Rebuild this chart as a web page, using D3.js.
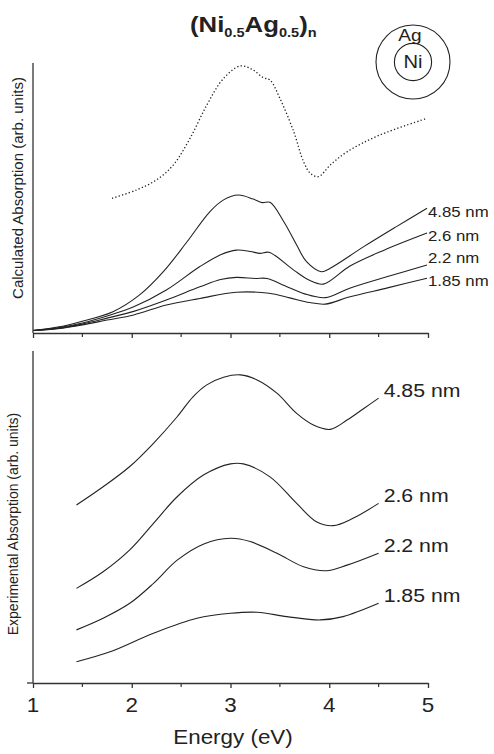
<!DOCTYPE html>
<html>
<head>
<meta charset="utf-8">
<script src="https://cdn.jsdelivr.net/npm/d3@7"></script>
<style>
  body { margin: 0; background: #fff; }
  text { font-family: "Liberation Sans", Arial, sans-serif; fill: #222; }
</style>
</head>
<body>
<script>
// energies (eV) and absorption (arb. units, 0-100 of panel height)
var calcLabels = ["4.85 nm", "2.6 nm", "2.2 nm", "1.85 nm"];
var calc485 = [[1.0,0.9],[1.25,2.2],[1.48,4.2],[1.81,7.9],[2.08,14.1],[2.32,22.7],[2.56,33.8],[2.79,44.9],[2.93,49.3],[3.08,51.1],[3.23,49.6],[3.32,48.3],[3.40,48.4],[3.54,41.2],[3.67,32.6],[3.77,26.4],[3.92,22.7],[4.01,24.0],[4.35,32.0],[4.68,39.4],[4.99,46.2]];
var calc26 = [[1.0,0.9],[1.25,1.9],[1.5,3.7],[1.75,6.3],[2.02,9.7],[2.35,15.9],[2.69,24.6],[2.9,29.0],[3.06,30.7],[3.2,30.2],[3.30,29.5],[3.39,29.9],[3.64,23.3],[3.8,19.5],[3.94,18.1],[4.21,24.8],[4.55,30.6],[4.99,37.0]];
var calc22 = [[1.0,0.9],[1.25,1.7],[1.5,3.3],[1.75,5.5],[2.02,8.0],[2.35,12.2],[2.69,17.1],[2.9,19.8],[3.06,20.6],[3.25,20.2],[3.37,20.2],[3.55,17.5],[3.75,14.5],[3.96,13.1],[4.2,16.5],[4.6,21.0],[4.99,25.2]];
var calc185 = [[1.0,0.9],[1.25,1.6],[1.5,3.0],[1.75,4.8],[2.02,6.7],[2.35,10.4],[2.69,12.8],[3.06,15.1],[3.39,14.7],[3.6,13.0],[3.8,11.3],[3.96,10.7],[4.2,13.3],[4.6,16.8],[4.99,20.3]];
var calcBulk = [[1.80,49.9],[2.05,53.0],[2.25,56.7],[2.42,62.2],[2.59,72.1],[2.76,84.4],[2.93,94.3],[3.10,98.9],[3.23,97.4],[3.33,94.6],[3.40,93.7],[3.50,86.9],[3.64,74.6],[3.74,63.4],[3.81,59.1],[3.89,57.9],[4.01,62.2],[4.18,67.1],[4.51,73.3],[4.99,79.5]];

var expLabels = ["4.85 nm", "2.6 nm", "2.2 nm", "1.85 nm"];
var exp485 = [[1.44,53.6],[1.71,59.1],[1.98,65.2],[2.22,72.2],[2.46,80.2],[2.62,86.2],[2.76,89.8],[2.93,92.1],[3.10,92.8],[3.27,91.3],[3.47,87.3],[3.67,81.2],[3.84,77.7],[4.01,76.4],[4.18,79.2],[4.35,82.7],[4.50,85.8]];
var exp26 = [[1.44,28.5],[1.71,33.5],[1.98,40.1],[2.22,48.1],[2.46,56.1],[2.73,62.7],[3.00,66.0],[3.13,66.0],[3.40,62.1],[3.67,54.1],[3.87,48.6],[4.04,47.4],[4.24,49.6],[4.50,54.1]];
var exp22 = [[1.44,16.0],[1.71,19.5],[1.98,24.0],[2.22,30.0],[2.46,37.0],[2.73,41.9],[3.00,43.6],[3.20,42.6],[3.47,39.1],[3.74,35.0],[3.97,33.8],[4.18,35.5],[4.50,39.1]];
var exp185 = [[1.44,6.4],[1.78,9.4],[2.22,15.0],[2.66,19.5],[3.00,21.0],[3.27,21.3],[3.57,20.0],[3.91,19.0],[4.14,20.0],[4.50,24.0]];

var majorTicks = [1, 2, 3, 4, 5];
var minorTicks = [1.5, 2.5, 3.5, 4.5];

var W = 494, H = 754, SX = 1.12;
var ink = "#222";

var svg = d3.select("body").append("svg").attr("width", W).attr("height", H);

var x = d3.scaleLinear().domain([1, 5]).range([33, 428]);
var yTop = d3.scaleLinear().domain([0, 100]).range([333, 63]);
var yBot = d3.scaleLinear().domain([0, 100]).range([683, 351]);

// text is a bit wide in the original, so stretch horizontally
function label(px, py, str, size, anchor, weight) {
  return svg.append("text")
    .attr("transform", "translate(" + px + "," + py + ") scale(" + SX + ",1)")
    .attr("text-anchor", anchor || "start")
    .style("font-size", size + "px")
    .style("font-weight", weight || "normal")
    .text(str);
}

function drawAxes(y, leftExtra) {
  var y0 = y.range()[0];
  var ax = d3.axisBottom(x).tickValues(majorTicks).tickSize(5).tickSizeOuter(0).tickFormat("");
  var g = svg.append("g").attr("transform", "translate(0," + y0 + ")").call(ax);
  g.selectAll("path, line").attr("stroke", "#333").attr("stroke-width", 1.3);
  g.selectAll(".minor").data(minorTicks).enter().append("line")
    .attr("x1", x).attr("x2", x).attr("y1", 0).attr("y2", 4)
    .attr("stroke", "#333").attr("stroke-width", 1.2);
  if (leftExtra) {
    g.append("line").attr("x1", x(1) - leftExtra).attr("x2", x(1))
      .attr("stroke", "#333").attr("stroke-width", 1.3);
  }
  // y axis line (no ticks)
  svg.append("line").attr("x1", x(1)).attr("x2", x(1))
    .attr("y1", y.range()[1]).attr("y2", y0)
    .attr("stroke", "#333").attr("stroke-width", 1.3);
}

drawAxes(yTop, 0);
drawAxes(yBot, 6);

var lineTop = d3.line().x(function (d) { return x(d[0]); }).y(function (d) { return yTop(d[1]); })
  .curve(d3.curveCatmullRom.alpha(0.5));
var lineBot = d3.line().x(function (d) { return x(d[0]); }).y(function (d) { return yBot(d[1]); })
  .curve(d3.curveCatmullRom.alpha(0.5));

// calculated spectra
var calcSeries = [calc485, calc26, calc22, calc185];
svg.selectAll("path.calc").data(calcSeries).enter().append("path")
  .attr("class", "calc").attr("d", lineTop)
  .attr("fill", "none").attr("stroke", ink).attr("stroke-width", 1.1);

svg.append("path").datum(calcBulk).attr("d", lineTop)
  .attr("fill", "none").attr("stroke", ink).attr("stroke-width", 1.3)
  .attr("stroke-dasharray", "1.3,2.2");

var calcDy = [8.5, 11, -2.3, 7.8];
calcSeries.forEach(function (s, i) {
  var last = s[s.length - 1];
  label(x(last[0]) + 1, yTop(last[1]) + calcDy[i] - (i === 1 ? 3 : 0), calcLabels[i], 15);
});

// experimental spectra
var expSeries = [exp485, exp26, exp22, exp185];
svg.selectAll("path.exp").data(expSeries).enter().append("path")
  .attr("class", "exp").attr("d", lineBot)
  .attr("fill", "none").attr("stroke", ink).attr("stroke-width", 1.1);

expSeries.forEach(function (s, i) {
  var last = s[s.length - 1];
  label(x(last[0]) + 5, yBot(last[1]) - 1, expLabels[i], 19);
});

// tick labels and axis titles
majorTicks.forEach(function (t) {
  label(x(t), 712, String(t), 20, "middle");
});
label(233, 744, "Energy (eV)", 20, "middle");

svg.append("text")
  .attr("transform", "translate(23,188) rotate(-90)")
  .attr("text-anchor", "middle").style("font-size", "15px")
  .text("Calculated Absorption (arb. units)");
svg.append("text")
  .attr("transform", "translate(18,524) rotate(-90)")
  .attr("text-anchor", "middle").style("font-size", "14px")
  .text("Experimental Absorption (arb. units)");

// title (Ni0.5Ag0.5)n
var title = label(190, 31.7, "", 23, "start", "bold");
var parts = [["(Ni", 0, 23], ["0.5", 5, 13], ["Ag", -5, 23], ["0.5", 5, 13], [")", -5, 23], ["n", 5, 13]];
parts.forEach(function (p) {
  title.append("tspan").attr("dy", p[1]).style("font-size", p[2] + "px").text(p[0]);
});

// core-shell sketch
svg.append("circle").attr("cx", 413).attr("cy", 62).attr("r", 37)
  .attr("fill", "none").attr("stroke", ink).attr("stroke-width", 1.1);
svg.append("circle").attr("cx", 413).attr("cy", 62).attr("r", 18.6)
  .attr("fill", "none").attr("stroke", ink).attr("stroke-width", 1.1);
label(410, 40.7, "Ag", 17, "middle");
label(413, 68.3, "Ni", 18, "middle");
</script>
</body>
</html>
